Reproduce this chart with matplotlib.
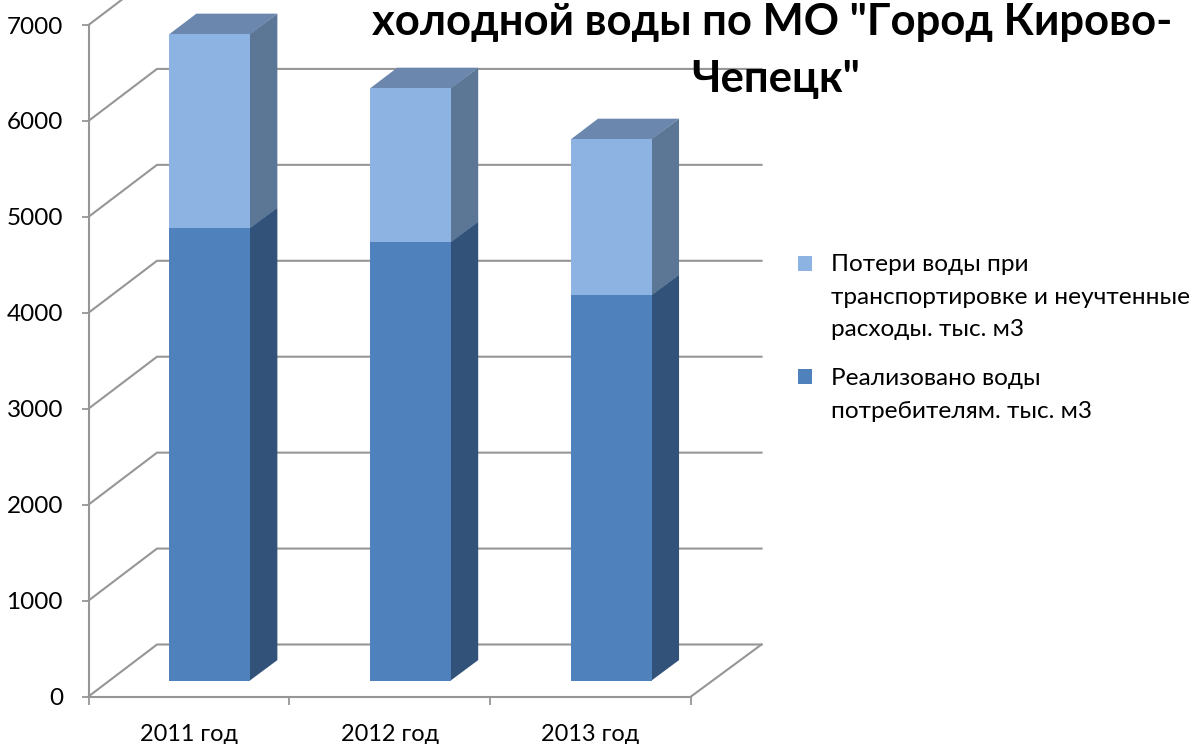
import matplotlib
matplotlib.use("Agg")
import matplotlib.pyplot as plt
from matplotlib.patches import Rectangle

plt.rcParams['font.family'] = ['Lato', 'Open Sans', 'DejaVu Sans']

categories = ['2011 год', '2012 год', '2013 год']
sold = [4716, 4570, 4017]
losses = [2023, 1605, 1627]
y_ticks = [0, 1000, 2000, 3000, 4000, 5000, 6000, 7000]
legend_labels = ['Потери воды при\nтранспортировке и неучтенные\nрасходы. тыс. м3',
                 'Реализовано воды\nпотребителям. тыс. м3']
title_lines = ['холодной воды по МО "Город Кирово-', 'Чепецк"']

W, H = 1202, 744
GRID = '#969696'
LIGHT = ('#8DB3E3', '#5C7696', '#6B87AE')
DARK = ('#4F81BD', '#325279', '#3F6797')

fig = plt.figure(figsize=(W / 100, H / 100), dpi=100, facecolor='white')
L, R, B, T = 88.5, 691.0, 696.5, 25.0
ax = fig.add_axes([L / W, 1 - B / H, (R - L) / W, (B - T) / H])
ax.set_xlim(0, 3)
ax.set_ylim(0, 7000)
ax.patch.set_visible(False)

# depth vector of the oblique projection, in data units
DX = 68.5 / (R - L) * 3
DY = 52.0 / (B - T) * 7000
BAR_W = 81.0 / (R - L) * 3
D0, D1 = 0.305, 0.70
SEAM = 0.003


def proj(x, y, d):
    return x + DX * d, y + DY * d


# back wall and floor lines
for v in y_ticks:
    x0, y0 = proj(0, v, 0)
    x1, y1 = proj(0, v, 1)
    x2, y2 = proj(3.01, v, 1)
    ax.plot([x0, x1, x2], [y0, y1, y2], color=GRID, lw=1.5, clip_on=False, zorder=1,
            solid_joinstyle='miter')
xa, ya = proj(3, 0, 0)
xb, yb = proj(3.01, 0, 1)
ax.plot([xa, xb], [ya, yb], color=GRID, lw=1.5, clip_on=False, zorder=1)


def box(xc, lo, hi, colors, z):
    xl, xr = xc - BAR_W / 2, xc + BAR_W / 2
    front, side, top = colors
    pts = lambda *p: list(zip(*[proj(*q) for q in p]))
    ax.fill(*pts((xr - SEAM, lo, D0), (xr, lo, D1), (xr, hi, D1), (xr - SEAM, hi, D0)),
            color=side, lw=0, clip_on=False, zorder=z)
    ax.fill(*pts((xl, hi, D0), (xr, hi, D0), (xr, hi, D1), (xl, hi, D1)),
            color=top, lw=0, clip_on=False, zorder=z)
    ax.fill(*pts((xl, lo, D0), (xr, lo, D0), (xr, hi, D0), (xl, hi, D0)),
            color=front, lw=0, clip_on=False, zorder=z + 0.1)


for i, (a, b) in enumerate(zip(sold, losses)):
    box(i + 0.5, 0, a, DARK, 3)
    box(i + 0.5, a, a + b, LIGHT, 4)

# axes
for s in ('top', 'right'):
    ax.spines[s].set_visible(False)
for s in ('left', 'bottom'):
    ax.spines[s].set_color(GRID)
    ax.spines[s].set_linewidth(1.5)
    ax.spines[s].set_zorder(2)
ax.set_yticks(y_ticks)
ax.set_xticks([0, 1, 2, 3])
ax.set_xticklabels([])
ax.set_xticks([0.5, 1.5, 2.5], minor=True)
ax.set_xticklabels(categories, minor=True, fontsize=16.9)
ax.tick_params(axis='y', length=5.4, width=1.3, color=GRID, labelsize=17.5, pad=13)
ax.tick_params(axis='x', which='major', length=5.4, width=1.3, color=GRID)
ax.tick_params(axis='x', which='minor', length=0, pad=19.5)

# title (clipped by the top of the picture in the source)
fig.text(772 / W, 1 - 22 / H, title_lines[0], fontsize=31.4, fontweight='bold',
         ha='center', va='center', color='black')
fig.text(776 / W, 1 - 79 / H, title_lines[1], fontsize=31.4, fontweight='bold',
         ha='center', va='center', color='black')

# legend
for (py, label, color, ty) in [(256, legend_labels[0], LIGHT[0], 254),
                               (369, legend_labels[1], DARK[0], 368)]:
    fig.add_artist(Rectangle((798 / W, 1 - (py + 15) / H), 14 / W, 15 / H,
                             transform=fig.transFigure, color=color, lw=0))
    fig.text(831 / W, 1 - ty / H, label, fontsize=17.6, ha='left', va='top',
             linespacing=1.69, color='black')

fig.savefig('out.png', dpi=100)
